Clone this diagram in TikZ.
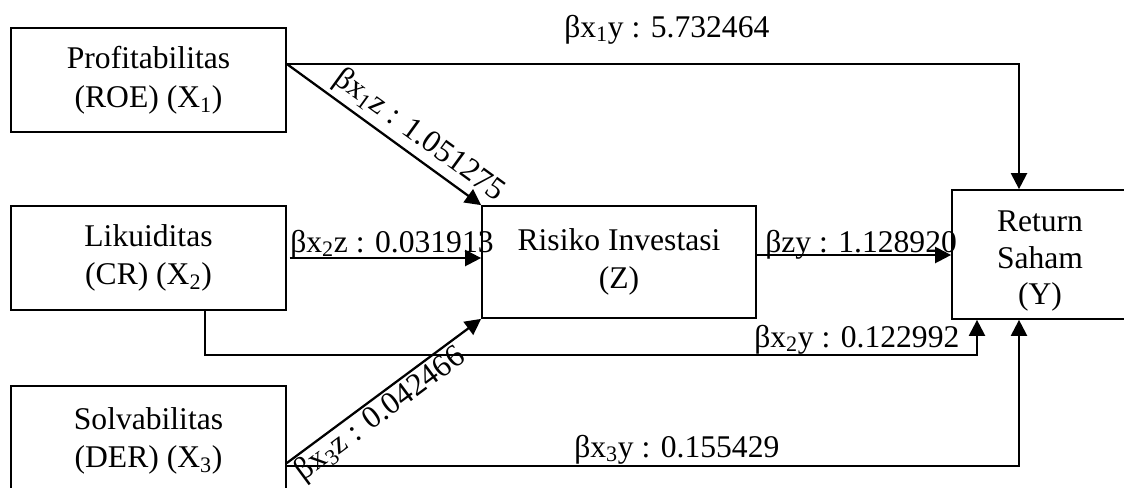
\documentclass[tikz,border=0pt]{standalone}
\usepackage{fontspec}
\setmainfont{Liberation Serif}
\usetikzlibrary{arrows.meta}
\begin{document}
\begin{tikzpicture}[x=0.75pt,y=-0.75pt,
  every node/.style={font=\fontsize{23.7}{29}\selectfont},
  box/.style={draw, line width=1.3pt, align=center, inner sep=0pt},
  arr/.style={line width=1.7pt, -{Triangle[length=12pt,width=12pt]}},
  lbl/.style={inner sep=0pt}]
\useasboundingbox (0,0) rectangle (1124,487);
% boxes
\node[box, minimum width=206.25pt, minimum height=78pt] (X1) at (148.5,80) {Profitabilitas\\(ROE) (X\textsubscript{1})};
\node[box, minimum width=206.25pt, minimum height=78pt] (X2) at (148.5,258) {Likuiditas\\(CR) (X\textsubscript{2})};
\node[box, minimum width=206.25pt, minimum height=82.5pt] (X3) at (148.5,441) {Solvabilitas\\(DER) (X\textsubscript{3})};
\node[box, minimum width=205.5pt, minimum height=84pt] (Z) at (619,262) {Risiko Investasi\\(Z)};
\node[box, minimum width=132pt, minimum height=96.75pt] (Y) at (1040,254.5)
  {\raisebox{-4.5pt}[\height][\depth]{\begin{tabular}{@{}c@{}}Return\\[-1.5pt]Saham\\[-1.5pt](Y)\end{tabular}}};
% free labels
\node[lbl, anchor=base west] (l1) at (564,37) {βx\textsubscript{1}y : 5.732464};
\node[lbl, anchor=base west] (l2) at (290,252) {βx\textsubscript{2}z : 0.031913};
\node[lbl, anchor=base west] (l3) at (765,252) {βzy : 1.128920};
\node[lbl, anchor=base west] (l4) at (754,347) {βx\textsubscript{2}y : 0.122992};
\node[lbl, anchor=base west] (l5) at (574,457) {βx\textsubscript{3}y : 0.155429};
% connectors
\draw[arr] ([yshift=12pt]X1.east) -| ([xshift=-15.75pt]Y.north);
\draw[arr] ([yshift=12pt]X1.east) -- (Z.north west)
  node[lbl, sloped, pos=0.62, above=3pt] (l6) {βx\textsubscript{1}z : 1.051275};
\draw[arr] ([xshift=2pt]X2.east) -- (X2.east -| Z.west);
\draw[arr] ([yshift=5.25pt]Z.east) -- ([yshift=5.25pt]Z.east -| Y.west);
\draw[arr] ([xshift=42.4pt]X2.south) -- ++(0,44) -| ([xshift=-47.25pt]Y.south);
\draw[arr] ([yshift=-16.5pt]X3.east) -- (Z.south west)
  node[lbl, sloped, pos=0.43, below=1pt] (l7) {βx\textsubscript{3}z : 0.042466};
\draw[arr] ([yshift=-18.75pt]X3.east) -| ([xshift=-15.75pt]Y.south);
\end{tikzpicture}
\end{document}
